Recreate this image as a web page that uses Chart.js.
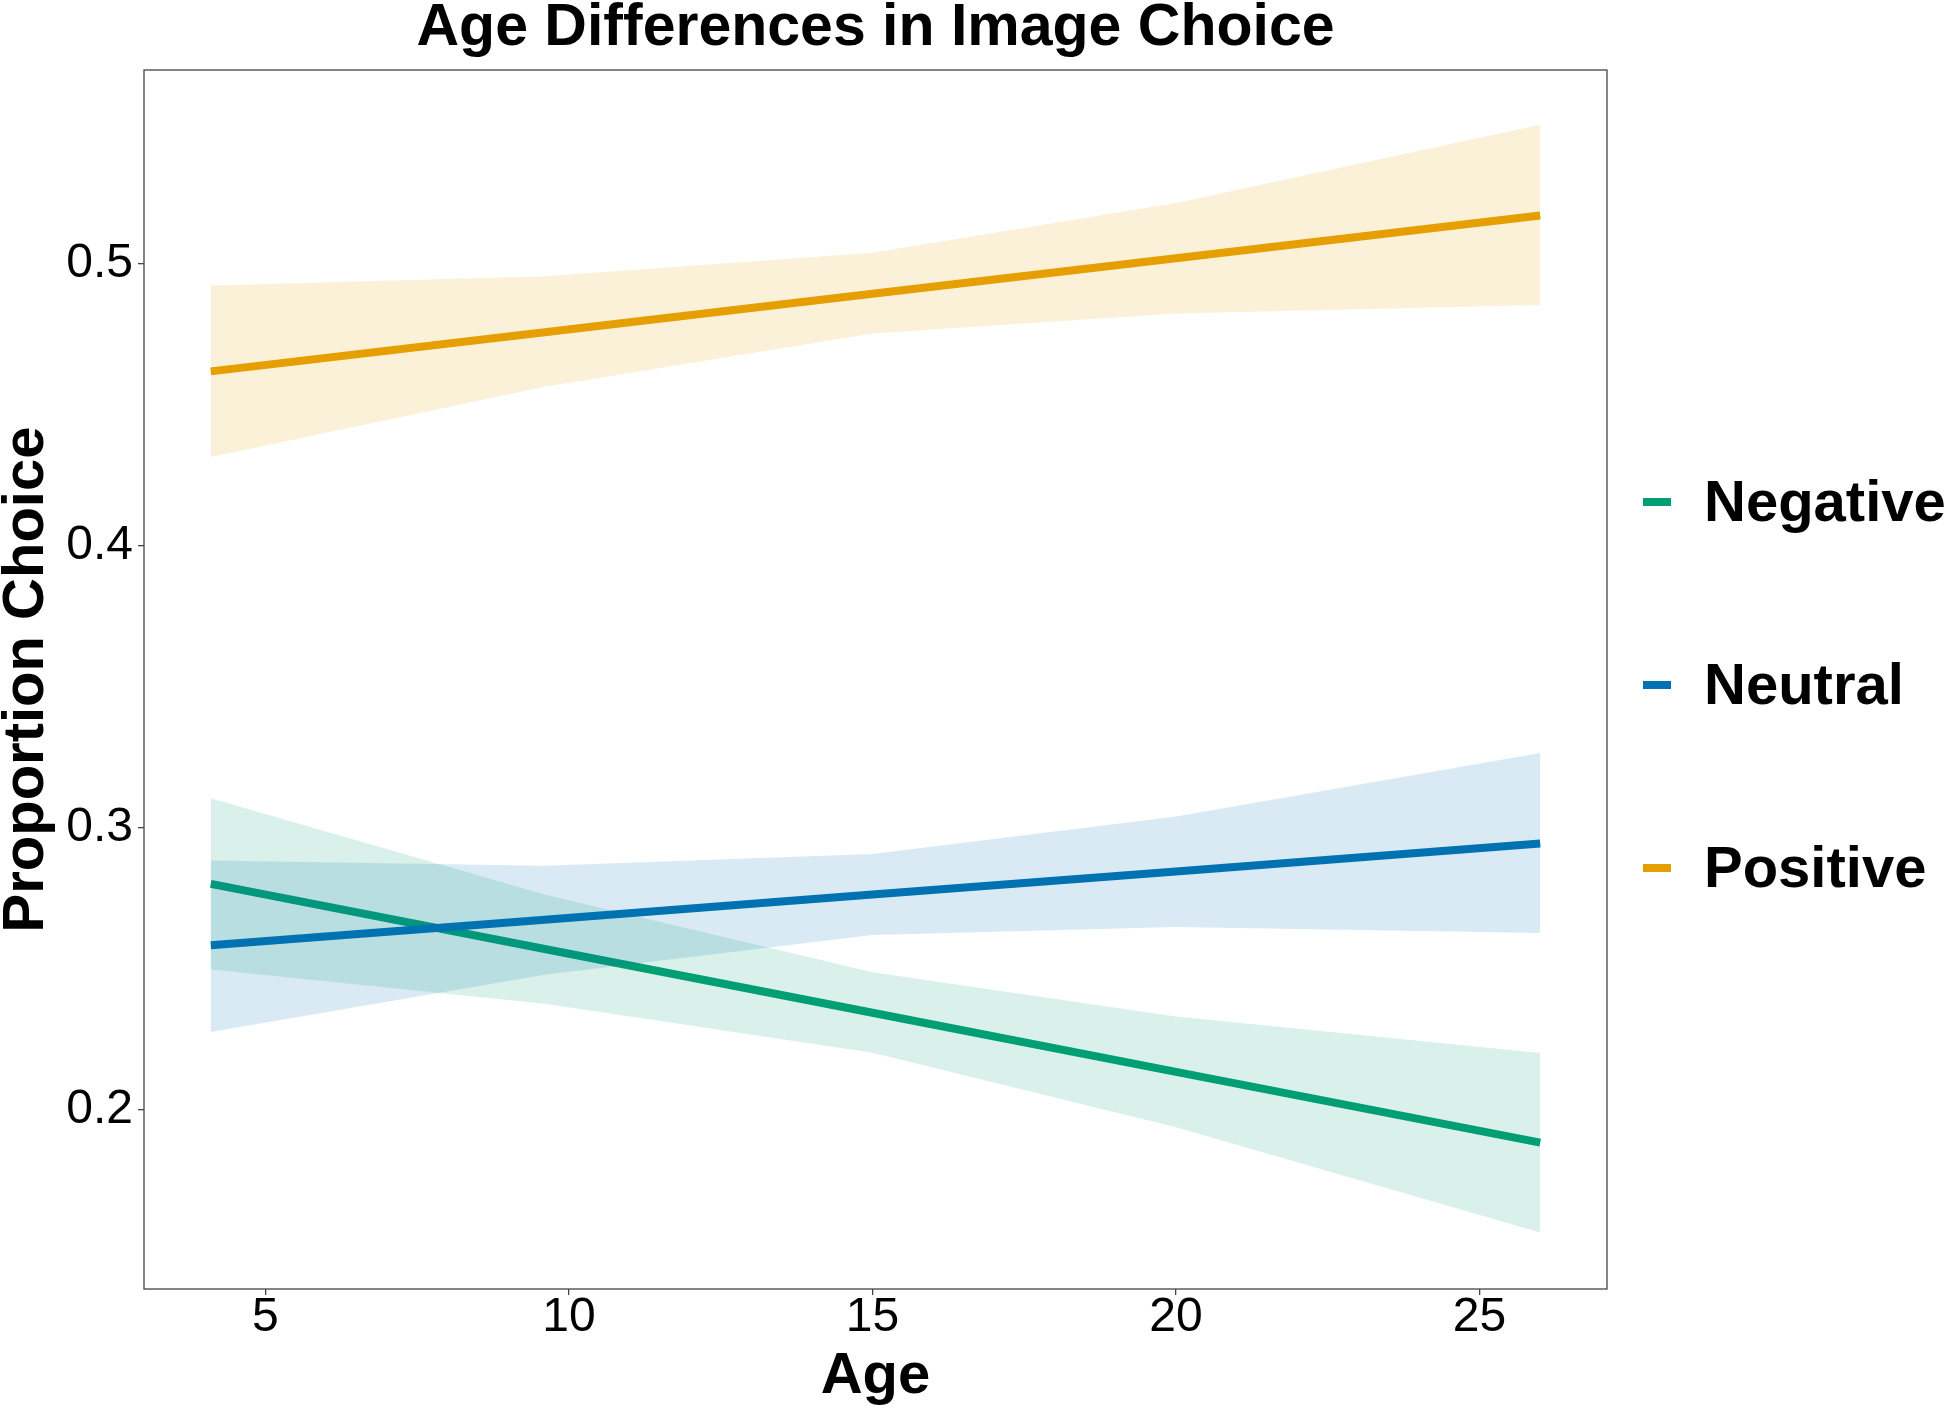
<!DOCTYPE html>
<html>
<head>
<meta charset="utf-8">
<script src="https://cdn.jsdelivr.net/npm/chart.js@4.4.1/dist/chart.umd.min.js"></script>
<style>
  html, body { margin: 0; padding: 0; background: #ffffff; }
  #wrap { width: 1950px; height: 1409px; }
</style>
</head>
<body>
<div id="wrap"><canvas id="c" width="1950" height="1409"></canvas></div>
<script>
// ---- data ----
const ages = [4.1, 9.6, 15, 20, 26];

const negativeFit   = [0.2800, 0.2569, 0.2343, 0.2133, 0.1882];
const negativeLower = [0.2496, 0.2375, 0.2201, 0.1937, 0.1563];
const negativeUpper = [0.3104, 0.2762, 0.2487, 0.2330, 0.2200];

const neutralFit   = [0.2582, 0.2673, 0.2762, 0.2844, 0.2943];
const neutralLower = [0.2275, 0.2478, 0.2619, 0.2647, 0.2626];
const neutralUpper = [0.2883, 0.2864, 0.2906, 0.3039, 0.3264];

const positiveFit   = [0.4618, 0.4757, 0.4893, 0.5019, 0.5171];
const positiveLower = [0.4314, 0.4563, 0.4752, 0.4823, 0.4853];
const positiveUpper = [0.4923, 0.4955, 0.5039, 0.5215, 0.5493];

const seriesNames = ['Negative', 'Neutral', 'Positive'];
const xTicks = [5, 10, 15, 20, 25];
const yTicks = [0.2, 0.3, 0.4, 0.5];
const xRange = [3.0, 27.1];
const yRange = [0.1363, 0.5687];

// ---- styling ----
const FONT = "'Liberation Sans', Arial, Helvetica, sans-serif";
const colors = {
  Negative: '#009E73',
  Neutral:  '#0072B2',
  Positive: '#E69F00'
};
const fills = {
  Negative: 'rgba(0,158,115,0.15)',
  Neutral:  'rgba(0,114,178,0.15)',
  Positive: 'rgba(230,159,0,0.15)'
};

const pts = arr => ages.map((a, i) => ({ x: a, y: arr[i] }));

function fitLine(label, arr, order) {
  return { label, data: pts(arr), borderColor: colors[label], borderWidth: 8,
           pointRadius: 0, fill: false, tension: 0, order, borderCapStyle: 'butt' };
}
function band(label, arr, order, fillTarget) {
  return { label: label, data: pts(arr), borderWidth: 0, borderColor: 'rgba(0,0,0,0)',
           pointRadius: 0, tension: 0, order,
           backgroundColor: fills[label.split(' ')[0]],
           fill: fillTarget === undefined ? false : fillTarget };
}

const datasets = [
  fitLine('Positive', positiveFit, 0),            // 0
  band('Positive lower', positiveLower, 1),       // 1
  band('Positive upper', positiveUpper, 1, 1),    // 2
  fitLine('Neutral', neutralFit, 2),              // 3
  band('Neutral lower', neutralLower, 3),         // 4
  band('Neutral upper', neutralUpper, 3, 4),      // 5
  fitLine('Negative', negativeFit, 4),            // 6
  band('Negative lower', negativeLower, 5),       // 7
  band('Negative upper', negativeUpper, 5, 7)     // 8
];

// panel border + legend
const panelAndLegend = {
  id: 'panelAndLegend',
  afterDraw(chart) {
    const { ctx, chartArea: a } = chart;
    ctx.save();
    ctx.strokeStyle = '#444444';
    ctx.lineWidth = 1.3;
    ctx.strokeRect(a.left, a.top, a.right - a.left, a.bottom - a.top);
    // legend
    const legendY = [502, 685, 868];
    ctx.font = 'bold 58px ' + FONT;
    ctx.textBaseline = 'middle';
    ctx.textAlign = 'left';
    seriesNames.forEach((name, i) => {
      ctx.strokeStyle = colors[name];
      ctx.lineWidth = 8;
      ctx.beginPath();
      ctx.moveTo(1643, legendY[i]);
      ctx.lineTo(1671, legendY[i]);
      ctx.stroke();
      ctx.fillStyle = '#000000';
      ctx.fillText(name, 1704, legendY[i] + 3);
    });
    ctx.restore();
  }
};

new Chart(document.getElementById('c'), {
  type: 'line',
  data: { datasets },
  options: {
    responsive: false,
    devicePixelRatio: 1,
    animation: false,
    events: [],
    layout: { padding: { left: 0, right: 343, top: 0, bottom: 0 } },
    plugins: {
      legend: { display: false },
      tooltip: { enabled: false },
      title: {
        display: true,
        text: 'Age Differences in Image Choice',
        fullSize: false,
        color: '#000000',
        font: { family: FONT, size: 59, weight: 'bold', lineHeight: 0.8 },
        padding: { top: 5, bottom: 17.8 }
      },
      filler: { propagate: false }
    },
    scales: {
      x: {
        type: 'linear',
        min: xRange[0], max: xRange[1],
        afterBuildTicks: s => { s.ticks = xTicks.map(v => ({ value: v })); },
        afterFit: s => { s.height = 120; },
        ticks: {
          color: '#000000',
          font: { family: FONT, size: 48, lineHeight: 0.9 },
          padding: 1,
          maxRotation: 0,
          callback: v => String(v)
        },
        grid: { display: true, drawOnChartArea: false, drawTicks: true, tickLength: 6,
                color: '#444444', lineWidth: 1.3 },
        border: { display: false },
        title: {
          display: true, text: 'Age', color: '#000000',
          font: { family: FONT, size: 58, weight: 'bold', lineHeight: 1 },
          padding: { top: 0, bottom: 3 }
        }
      },
      y: {
        type: 'linear',
        min: yRange[0], max: yRange[1],
        afterBuildTicks: s => { s.ticks = yTicks.map(v => ({ value: v })); },
        afterFit: s => { s.width = 144; },
        ticks: {
          color: '#000000',
          font: { family: FONT, size: 48 },
          padding: 5,
          callback: v => Number(v).toFixed(1)
        },
        grid: { display: true, drawOnChartArea: false, drawTicks: true, tickLength: 6,
                color: '#444444', lineWidth: 1.3 },
        border: { display: false },
        title: {
          display: true, text: 'Proportion Choice', color: '#000000',
          font: { family: FONT, size: 58, weight: 'bold', lineHeight: 0.93 },
          padding: { top: 0, bottom: 0 }
        }
      }
    }
  },
  plugins: [panelAndLegend]
});
</script>
</body>
</html>
